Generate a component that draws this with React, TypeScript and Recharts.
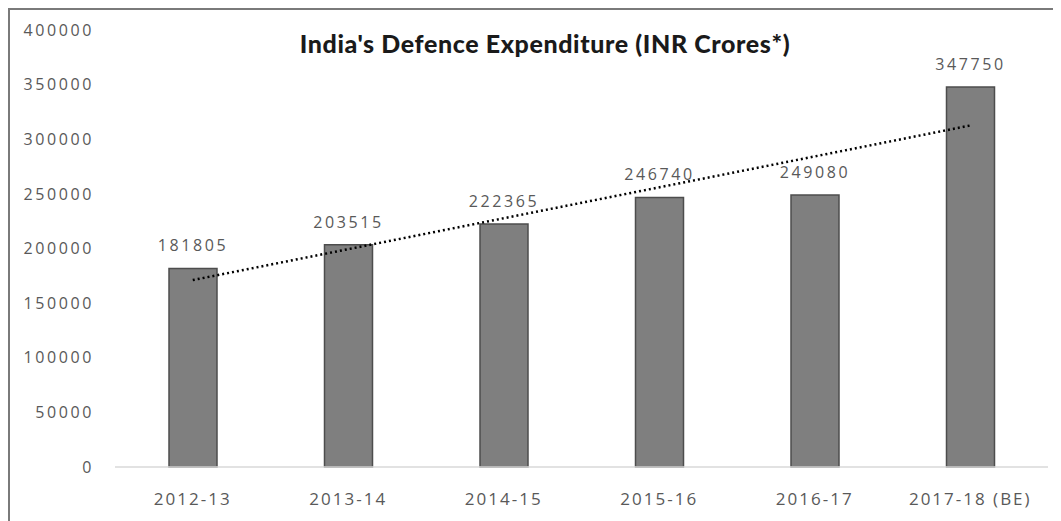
import React from "react";
import {
  ComposedChart, Bar, Line, XAxis, YAxis, LabelList,
} from "recharts";

const years = ["2012-13", "2013-14", "2014-15", "2015-16", "2016-17", "2017-18 (BE)"];
const spend = [181805, 203515, 222365, 246740, 249080, 347750];
// linear trend: only its two ends
const trend = [171100, null, null, null, null, 312600];
const yTicks = [0, 50000, 100000, 150000, 200000, 250000, 300000, 350000, 400000];

const data = years.map((y, i) => ({ year: y, spend: spend[i], trend: trend[i] }));

const font = "'Open Sans', sans-serif";
const grey = "#595959";

export default function App() {
  return (
    <div
      style={{
        width: 1061, height: 521, borderTop: "2px solid #7a7a7a",
        borderLeft: "2px solid #7a7a7a", background: "#fff", position: "relative",
      }}
    >
      <div
        style={{
          position: "absolute", left: 0, top: 18, width: 1070, textAlign: "center",
          fontFamily: "Lato, sans-serif", fontWeight: 900,
          fontSize: 25, color: "#1a1a1a", letterSpacing: 0.6,
        }}
      >
        India's Defence Expenditure (INR Crores*)
      </div>
      <ComposedChart
        width={1051}
        height={511}
        data={data}
        margin={{ top: 20, right: 13, bottom: 0, left: 15 }}
      >
        <XAxis
          dataKey="year"
          axisLine={{ stroke: "#d9d9d9", strokeWidth: 1.5 }}
          tickLine={false}
          height={54}
          tickMargin={20}
          tick={{ fill: grey, fontSize: 17, fontFamily: font, letterSpacing: 2 }}
        />
        <YAxis
          domain={[0, 400000]}
          ticks={yTicks}
          axisLine={false}
          tickLine={false}
          width={90}
          tickMargin={15}
          tick={{ fill: grey, fontSize: 16, fontFamily: font, letterSpacing: 2.6 }}
        />
        <Bar
          dataKey="spend"
          fill="#7f7f7f"
          stroke="#4d4d4d"
          strokeWidth={1.5}
          barSize={48}
          isAnimationActive={false}
        >
          <LabelList
            dataKey="spend"
            position="top"
            offset={17}
            fill={grey}
            fontSize={16}
            fontFamily={font}
            letterSpacing={2.6}
          />
        </Bar>
        <Line
          dataKey="trend"
          connectNulls
          stroke="#000"
          strokeWidth={2.5}
          strokeDasharray="2 3"
          dot={false}
          activeDot={false}
          isAnimationActive={false}
        />
      </ComposedChart>
    </div>
  );
}
